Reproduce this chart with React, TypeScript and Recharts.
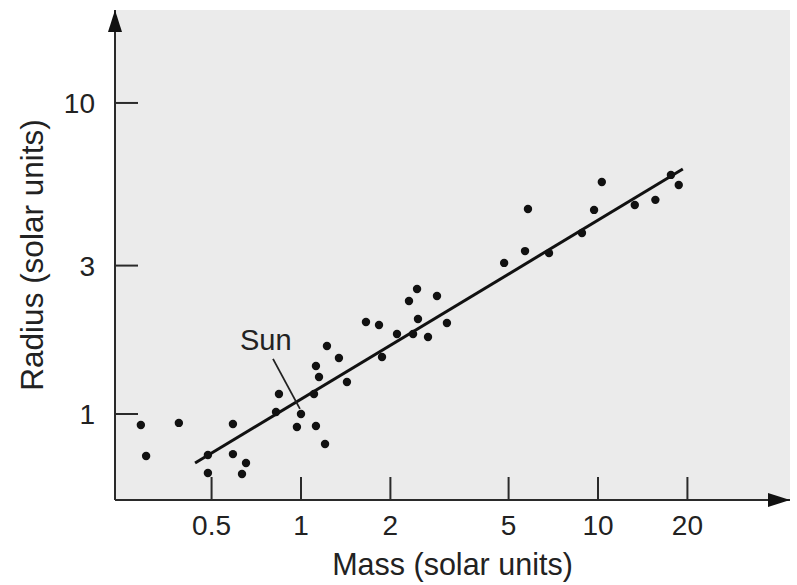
import {
  ScatterChart,
  Scatter,
  XAxis,
  YAxis,
  CartesianGrid,
  ReferenceLine,
  ReferenceDot,
  Label,
} from 'recharts';

// star masses / radii in solar units
const mass = [
  0.289, 0.301, 0.388, 0.59, 0.486, 0.486, 0.59, 0.653, 0.633, 0.824, 0.843,
  1.0, 0.969, 1.123, 1.205, 1.106, 1.15, 1.123, 1.223, 1.342, 1.428, 1.655,
  1.831, 2.459, 2.31, 2.87, 2.477, 2.105, 2.384, 2.677, 3.1, 1.874, 4.83,
  5.68, 5.81, 6.84, 8.83, 9.7, 10.3, 13.3, 15.6, 17.6, 18.7,
];
const radius = [
  0.922, 0.733, 0.936, 0.929, 0.738, 0.646, 0.743, 0.696, 0.641, 1.015, 1.16,
  1.0, 0.908, 0.915, 0.801, 1.16, 1.315, 1.427, 1.654, 1.514, 1.267, 1.976,
  1.933, 2.523, 2.308, 2.395, 2.02, 1.808, 1.808, 1.768, 1.962, 1.525, 3.06,
  3.34, 4.56, 3.29, 3.82, 4.53, 5.57, 4.7, 4.88, 5.87, 5.45,
];

const fitMass = [0.44, 19.3];
const fitRadius = [0.696, 6.13];

// "Sun" annotation: text anchor and leader line
const sunText = { x: 0.623, y: 1.606 };
const sunLeaderMass = [0.805, 0.992];
const sunLeaderRadius = [1.503, 1.038];

const xTicks = [0.5, 1, 2, 5, 10, 20];
const yTicks = [1, 3, 10];
const xDomain = [0.2365, 44.3];
const yDomain = [0.529, 19.9];

const FONT = '"Liberation Sans", Arial, Helvetica, sans-serif';
const INK = '#222';
const AXIS = '#2a2a2a';

const points = mass.map((m, i) => ({ m, r: radius[i] }));

// eslint-disable-next-line @typescript-eslint/no-explicit-any
const Dot = (p: any) => <circle cx={p.cx} cy={p.cy} r={4.2} fill="#111" />;

// eslint-disable-next-line @typescript-eslint/no-explicit-any
const ArrowRight = (p: any) => (
  <path d={`M${p.cx},${p.cy} L${p.cx - 22},${p.cy - 7} L${p.cx - 22},${p.cy + 7} Z`} fill="#111" />
);

// eslint-disable-next-line @typescript-eslint/no-explicit-any
const ArrowUp = (p: any) => (
  <path d={`M${p.cx},${p.cy} L${p.cx - 7},${p.cy + 22} L${p.cx + 7},${p.cy + 22} Z`} fill="#111" />
);

// eslint-disable-next-line @typescript-eslint/no-explicit-any
const SunLabel = (p: any) => (
  <text x={p.cx} y={p.cy} fill={INK} fontSize={29} fontFamily={FONT}>
    Sun
  </text>
);

const YTitle = () => (
  <text
    x={43}
    y={255}
    transform="rotate(-90 43 255)"
    textAnchor="middle"
    fill={INK}
    fontSize={31.5}
    fontFamily={FONT}
  >
    Radius (solar units)
  </text>
);

export default function App() {
  const tickStyle = { fill: INK, fontSize: 28, fontFamily: FONT };
  return (
    <div style={{ position: 'absolute', left: 0, top: 0, background: '#fff' }}>
      <ScatterChart width={797} height={585} margin={{ top: 10, right: 7, left: 0, bottom: 0 }}>
        <CartesianGrid fill="#ebebeb" stroke="none" horizontal={false} vertical={false} />
        <XAxis
          dataKey="m"
          type="number"
          scale="log"
          domain={xDomain}
          allowDataOverflow
          ticks={xTicks}
          height={85}
          tick={tickStyle}
          tickSize={-23}
          tickMargin={38}
          tickLine={{ stroke: AXIS, strokeWidth: 2 }}
          axisLine={{ stroke: AXIS, strokeWidth: 2 }}
        >
          <Label
            value="Mass (solar units)"
            position="insideBottom"
            offset={10}
            fill={INK}
            fontSize={30.5}
            fontFamily={FONT}
          />
        </XAxis>
        <YAxis
          dataKey="r"
          type="number"
          scale="log"
          domain={yDomain}
          allowDataOverflow
          ticks={yTicks}
          width={115}
          tick={tickStyle}
          tickSize={-23}
          tickMargin={43}
          tickLine={{ stroke: AXIS, strokeWidth: 2 }}
          axisLine={{ stroke: AXIS, strokeWidth: 2 }}
          label={<YTitle />}
        />
        <ReferenceLine
          segment={[
            { x: fitMass[0], y: fitRadius[0] },
            { x: fitMass[1], y: fitRadius[1] },
          ]}
          stroke="#111"
          strokeWidth={3}
        />
        <ReferenceLine
          segment={[
            { x: sunLeaderMass[0], y: sunLeaderRadius[0] },
            { x: sunLeaderMass[1], y: sunLeaderRadius[1] },
          ]}
          stroke={INK}
          strokeWidth={1.8}
        />
        <ReferenceDot x={sunText.x} y={sunText.y} shape={SunLabel} ifOverflow="visible" />
        <Scatter data={points} shape={Dot} isAnimationActive={false} />
        <ReferenceDot x={xDomain[1]} y={yDomain[0]} shape={ArrowRight} ifOverflow="visible" />
        <ReferenceDot x={xDomain[0]} y={yDomain[1]} shape={ArrowUp} ifOverflow="visible" />
      </ScatterChart>
    </div>
  );
}
